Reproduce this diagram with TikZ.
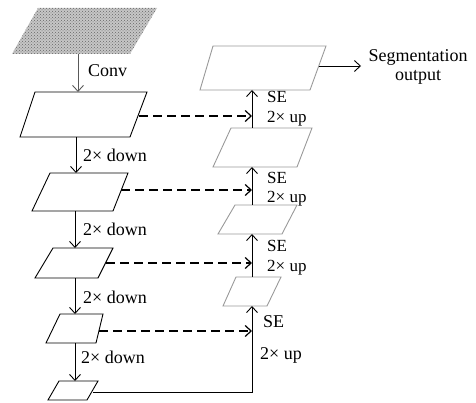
\documentclass[tikz,border=0pt]{standalone}
\usepackage{fontspec}
\setmainfont{Liberation Serif}
\usetikzlibrary{arrows.meta,patterns}
\begin{document}
\begin{tikzpicture}[x=1pt,y=-1pt,
  box/.style={draw=black,line width=0.9pt},
  rbox/.style={draw=gray!80,line width=0.9pt},
  arr/.style={line width=0.9pt,-{Straight Barb[length=6pt,width=11pt]}},
  darr/.style={arr,dash pattern=on 9pt off 5pt,line width=1.2pt},
  lab/.style={font=\fontsize{18}{18}\selectfont,inner sep=0pt,anchor=west},
  lab2/.style={font=\fontsize{17}{19.5}\selectfont,inner sep=0pt,anchor=west,align=left}]
\useasboundingbox (0,0) rectangle (476,403);
% input image
\fill[gray!45] (12,54) -- (38,8) -- (157,8) -- (130,54) -- cycle;
\fill[pattern=crosshatch dots,pattern color=gray!80!black] (12,54) -- (38,8) -- (157,8) -- (130,54) -- cycle;
\coordinate (img) at (78,54);
% encoder parallelograms
\draw[box] (20,137) -- (35,92) -- (147,92) -- (130,137) -- cycle;
\coordinate (p1t) at (78,92); \coordinate (p1b) at (76,137); \coordinate (p1r) at (139,116);
\draw[box] (32,211) -- (50,173) -- (128,173) -- (113,211) -- cycle;
\coordinate (p2t) at (76,173); \coordinate (p2b) at (75,211); \coordinate (p2r) at (121,190);
\draw[box] (35,278) -- (53,248) -- (113,248) -- (98,278) -- cycle;
\coordinate (p3t) at (75,248); \coordinate (p3b) at (75,278); \coordinate (p3r) at (106,263);
\draw[box] (46,343) -- (60,314) -- (103,314) -- (96,343) -- cycle;
\coordinate (p4t) at (75,314); \coordinate (p4b) at (75,343); \coordinate (p4r) at (99,331);
\draw[box] (48,400) -- (59,381) -- (98,381) -- (87,400) -- cycle;
\coordinate (p5t) at (75,381); \coordinate (p5r) at (93,392);
% decoder parallelograms
\draw[rbox] (200,90) -- (213,46) -- (326,46) -- (310,90) -- cycle;
\coordinate (r1b) at (252,90); \coordinate (r1r) at (319,66);
\draw[rbox] (213,167) -- (231,128) -- (312,128) -- (297,167) -- cycle;
\coordinate (r2t) at (252,128); \coordinate (r2b) at (252,167);
\draw[rbox] (218,234) -- (235,205) -- (297,205) -- (282,234) -- cycle;
\coordinate (r3t) at (252,205); \coordinate (r3b) at (252,234);
\draw[rbox] (223,306) -- (236,277) -- (281,277) -- (267,306) -- cycle;
\coordinate (r4t) at (252,277); \coordinate (r4b) at (252,306);
\coordinate (corner) at (252,392);
\coordinate (out) at (361,66);
% encoder arrows
\draw[arr,draw=gray!70!black] (img) -- (p1t);
\draw[arr] (p1b) -- (p2t);
\draw[arr] (p2b) -- (p3t);
\draw[arr] (p3b) -- (p4t);
\draw[arr] (p4b) -- (p5t);
% skip connections
\draw[darr] (p1r) -- (252,116);
\draw[darr] (p2r) -- (252,190);
\draw[darr] (p3r) -- (252,263);
\draw[darr] (p4r) -- (252,331);
% decoder arrows
\draw[arr] (p5r) -- (corner) -- (r4b);
\draw[arr] (r4t) -- (r3b);
\draw[arr] (r3t) -- (r2b);
\draw[arr] (r2t) -- (r1b);
\draw[arr] (r1r) -- (out);
% labels
\node[lab] (lconv) at (88,71) {Conv};
\node[lab] (ld1) at (83,155) {2× down};
\node[lab] (ld2) at (83,229) {2× down};
\node[lab] (ld3) at (83,297) {2× down};
\node[lab] (ld4) at (81,357) {2× down};
\node[lab2] (su1) at (267,108.5) {SE\\2× up};
\node[lab2] (su2) at (267,189) {SE\\2× up};
\node[lab2] (su3) at (267,257.5) {SE\\2× up};
\node[lab] (se4) at (263,322) {SE};
\node[lab] (up4) at (260,355) {2× up};
\node[font=\fontsize{18}{19}\selectfont,align=center,inner sep=0pt] (seg) at (418,67) {Segmentation\\output};
\end{tikzpicture}
\end{document}
